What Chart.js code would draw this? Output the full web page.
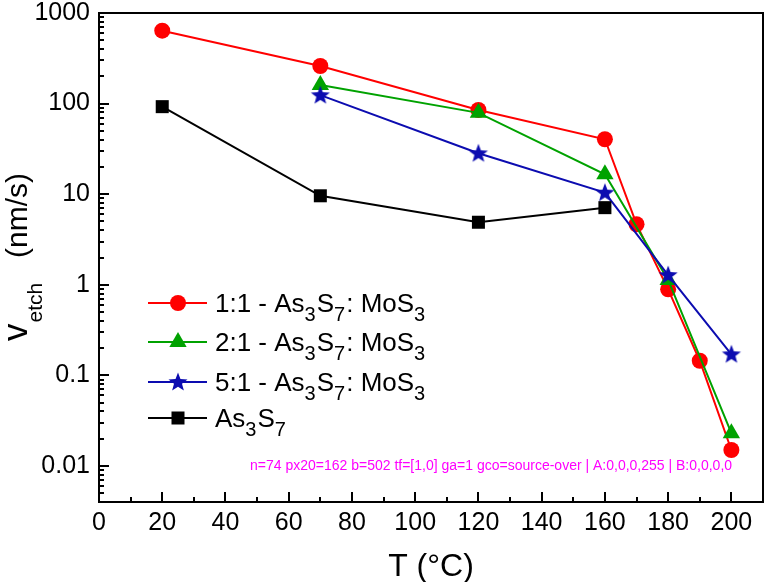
<!DOCTYPE html>
<html>
<head>
<meta charset="utf-8">
<script src="https://cdn.jsdelivr.net/npm/chart.js@4"></script>
<style>
  html, body { margin: 0; padding: 0; background: #fff; }
  #wrap { width: 773px; height: 582px; }
</style>
</head>
<body>
<div id="wrap"><canvas id="myChart" width="773" height="582"></canvas></div>
<script>
// temperatures (°C) and etch rates (nm/s)
var t11 = [20, 70, 120, 160, 170, 180, 190, 200];
var v11 = [638, 260, 85, 40.4, 4.66, 0.89, 0.145, 0.015];
var t21 = [70, 120, 160, 180, 200];
var v21 = [160, 79, 16.6, 1.13, 0.023];
var t51 = [70, 120, 160, 180, 200];
var v51 = [124, 28.3, 10.4, 1.28, 0.171];
var tAs = [20, 70, 120, 160];
var vAs = [92.5, 9.6, 4.9, 7.1];

var xTicks = [0, 20, 40, 60, 80, 100, 120, 140, 160, 180, 200];
var yTicks = [0.01, 0.1, 1, 10, 100, 1000];

var RED = '#ff0000', GREEN = '#00a200', BLUE = '#0c0cb0', BLACK = '#000000';
var FONT = "'Liberation Sans', 'Open Sans', sans-serif";

function pts(xs, ys) {
    return xs.map(function (x, i) { return { x: x, y: ys[i] }; });
}

function makeStar(color) {
    var c = document.createElement('canvas');
    c.width = 22; c.height = 22;
    var g = c.getContext('2d');
    g.fillStyle = color;
    g.beginPath();
    for (var i = 0; i < 10; i++) {
        var r = i % 2 === 0 ? 10 : 4.2;
        var ang = -Math.PI / 2 + i * Math.PI / 5;
        g.lineTo(11 + r * Math.cos(ang), 11.5 + r * Math.sin(ang));
    }
    g.closePath();
    g.fill();
    return c;
}
var star = makeStar(BLUE);

var legendRows = [
    { color: RED, style: 'circle', radius: 8, parts: [['1:1 - As'], ['3', 1], ['S'], ['7', 1], [': MoS'], ['3', 1]] },
    { color: GREEN, style: 'triangle', radius: 10, parts: [['2:1 - As'], ['3', 1], ['S'], ['7', 1], [': MoS'], ['3', 1]] },
    { color: BLUE, style: star, radius: 10, parts: [['5:1 - As'], ['3', 1], ['S'], ['7', 1], [': MoS'], ['3', 1]] },
    { color: BLACK, style: 'rect', radius: 9.2, parts: [['As'], ['3', 1], ['S'], ['7', 1]] }
];

function drawRich(ctx, parts, x, y, size, subSize, subDrop) {
    parts.forEach(function (p) {
        var sub = p[1] === 1;
        ctx.font = (sub ? subSize : size) + 'px ' + FONT;
        ctx.fillText(p[0], x, y + (sub ? subDrop : 0));
        x += ctx.measureText(p[0]).width + (sub ? 1 : 0);
    });
    return x;
}

var diag = [];
function probe(c, tag, x, y) {
    diag.push(tag + ':' + Array.from(c.getImageData(x, y, 1, 1).data).join(','));
}

var frame = {
    id: 'frame',
    afterDraw: function (chart) {
        var c = chart.ctx, area = chart.chartArea;
        var sx = chart.scales.x, sy = chart.scales.y;
        c.save();
        c.fillStyle = '#000';
        var n = 0;
        for (var v = 0; v <= 210; v += 10) {
            var px = Math.round(sx.getPixelForValue(v));
            var len = v % 20 === 0 ? 10 : 5;
            c.fillRect(px - 1, area.bottom - len, 2, len);
            n++;
        }
        for (var d = -3; d <= 3; d++) {
            for (var m = 1; m <= 9; m++) {
                var val = m * Math.pow(10, d);
                if (val < sy.min * 0.999 || val > sy.max * 1.001) continue;
                var py = Math.round(sy.getPixelForValue(val));
                c.fillRect(area.left, py - 1, m === 1 ? 10 : 5, 2);
                n++;
            }
        }
        c.strokeStyle = '#000';
        c.lineWidth = 2;
        c.strokeRect(area.left, area.top, area.right - area.left, area.bottom - area.top);
        diag.push('n=' + n + ' px20=' + Math.round(sx.getPixelForValue(20)) + ' b=' + area.bottom + ' tf=' + JSON.stringify(c.getTransform ? [c.getTransform().a, c.getTransform().e] : 0) + ' ga=' + c.globalAlpha + ' gco=' + c.globalCompositeOperation);
        probe(c, 'A', Math.round(sx.getPixelForValue(20)), area.bottom - 6);
        c.restore();
    }
};

var decor = {
    id: 'decor',
    afterDraw: function (chart) {
        var c = chart.ctx, area = chart.chartArea;
        c.save();
        c.fillStyle = '#000';
        c.textAlign = 'center';
        c.textBaseline = 'alphabetic';
        c.font = '32px ' + FONT;
        c.fillText('T (°C)', (area.left + area.right) / 2, 576);

        c.save();
        c.translate(27, 0);
        c.rotate(-Math.PI / 2);
        c.textAlign = 'left';
        var x0 = -341;
        c.font = '35px ' + FONT;
        c.fillText('v', x0, 0);
        x0 += c.measureText('v').width + 1;
        c.font = '21px ' + FONT;
        c.fillText('etch', x0, 15);
        c.font = '30px ' + FONT;
        c.fillText('(nm/s)', -258, 0);
        c.restore();

        c.textAlign = 'left';
        var rowY = [303, 342, 382, 418];
        legendRows.forEach(function (r, i) {
            var y = rowY[i];
            c.strokeStyle = r.color;
            c.lineWidth = 2;
            c.beginPath();
            c.moveTo(148, y);
            c.lineTo(207, y);
            c.stroke();
            c.fillStyle = r.color;
            Chart.helpers.drawPoint(c, { pointStyle: r.style, radius: r.radius, borderWidth: 0, rotation: 0 }, 178, y);
            c.fillStyle = '#000';
            drawRich(c, r.parts, 215, y + 9, 26, 20, 9);
        });
        probe(c, 'B', 163, 496);
        c.fillStyle = '#f0f';
        c.font = '14px sans-serif';
        c.fillText(diag.join(' | '), 250, 470);
        c.restore();
    }
};

function series(label, xs, ys, color, style, radius) {
    return {
        label: label,
        data: pts(xs, ys),
        borderColor: color,
        backgroundColor: color,
        borderWidth: 2,
        pointStyle: style,
        pointRadius: radius,
        pointHoverRadius: radius,
        pointBorderWidth: 0,
        pointBackgroundColor: color
    };
}

var myChart = new Chart(document.getElementById('myChart').getContext('2d'), {
    type: 'line',
    data: {
        datasets: [
            series('As₃S₇', tAs, vAs, BLACK, 'rect', 9.2),
            series('5:1 - As₃S₇: MoS₃', t51, v51, BLUE, star, 10),
            series('2:1 - As₃S₇: MoS₃', t21, v21, GREEN, 'triangle', 10),
            series('1:1 - As₃S₇: MoS₃', t11, v11, RED, 'circle', 8)
        ]
    },
    options: {
        responsive: false,
        animation: false,
        layout: { padding: { top: 13, right: 2, left: 0, bottom: 0 } },
        plugins: {
            legend: { display: false },
            tooltip: { enabled: false }
        },
        scales: {
            x: {
                type: 'linear',
                min: 0,
                max: 210,
                grid: { display: false, drawTicks: false },
                border: { display: false },
                afterBuildTicks: function (s) { s.ticks = xTicks.map(function (v) { return { value: v }; }); },
                afterFit: function (s) { s.height = 80; s.paddingLeft = 0; s.paddingRight = 0; },
                ticks: {
                    padding: 6,
                    color: '#000',
                    maxRotation: 0,
                    autoSkip: false,
                    font: { family: FONT, size: 25 },
                    callback: function (v) { return String(v); }
                }
            },
            y: {
                type: 'logarithmic',
                min: 0.004,
                max: 1000,
                grid: { display: false, drawTicks: false },
                border: { display: false },
                afterBuildTicks: function (s) { s.ticks = yTicks.map(function (v) { return { value: v }; }); },
                afterFit: function (s) { s.width = 99; s.paddingTop = 0; s.paddingBottom = 0; },
                ticks: {
                    padding: 9,
                    color: '#000',
                    autoSkip: false,
                    font: { family: FONT, size: 25 },
                    callback: function (v) { return String(v); }
                }
            }
        }
    },
    plugins: [frame, decor]
});
</script>
</body>
</html>
